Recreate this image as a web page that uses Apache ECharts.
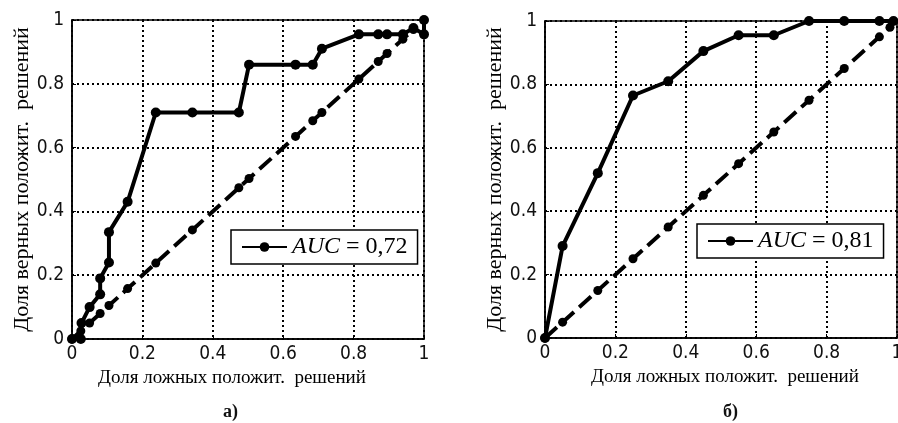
<!DOCTYPE html>
<html>
<head>
<meta charset="utf-8">
<script src="https://cdn.jsdelivr.net/npm/echarts@6/dist/echarts.min.js"></script>
<style>
html,body{margin:0;padding:0;background:#fff;}
#c{width:898px;height:423px;}
</style>
</head>
<body>
<div id="c"></div>
<script>
// ---- data ----
var ticks = [0, 0.2, 0.4, 0.6, 0.8, 1];
var leftFpr = [0, 0.025, 0.027, 0.05, 0.08, 0.08, 0.105, 0.105, 0.158, 0.238, 0.342, 0.474, 0.503, 0.635, 0.684, 0.71, 0.815, 0.87, 0.895, 0.94, 0.97, 1.0, 1.0];
var leftTpr = [0, 0, 0.05, 0.10, 0.14, 0.19, 0.24, 0.335, 0.43, 0.71, 0.71, 0.71, 0.86, 0.86, 0.86, 0.91, 0.955, 0.955, 0.955, 0.955, 0.975, 0.955, 1.0];
var leftDiag = [0, 0.025, 0.05, 0.08, 0.105, 0.158, 0.238, 0.342, 0.474, 0.503, 0.635, 0.684, 0.71, 0.815, 0.87, 0.895, 0.94, 0.97];
var rightFpr = [0, 0.05, 0.15, 0.25, 0.35, 0.45, 0.55, 0.65, 0.75, 0.85, 0.95, 0.99];
var rightTpr = [0, 0.29, 0.52, 0.765, 0.81, 0.905, 0.955, 0.955, 1, 1, 1, 1];
var rightDiag = [0, 0.05, 0.15, 0.25, 0.35, 0.45, 0.55, 0.65, 0.75, 0.85, 0.95, 0.98];
var leftName = 'AUC = 0,72';
var rightName = 'AUC = 0,81';
var xTitle = 'Доля ложных положит.  решений';
var yTitle = 'Доля верных положит.  решений';
var panelLabels = ['а)', 'б)'];

function pairs(xs, ys) { return xs.map(function (x, i) { return [x, ys[i]]; }); }
function diag(xs) { return xs.map(function (x) { return [x, x]; }); }

var tickFont = "'Liberation Sans Narrow','DejaVu Sans Condensed',Arial,sans-serif";
var serif = "'Liberation Serif','Times New Roman',serif";

function fmt(v) { return String(Math.round(v * 10) / 10); }

function xAxis(i, pad) {
  return {
    gridIndex: i, type: 'value', min: 0, max: 1, interval: 0.2,
    name: xTitle, nameLocation: 'middle', nameGap: 30,
    nameTextStyle: { fontFamily: serif, fontSize: 19, color: '#000', padding: pad },
    axisLine: { show: true, onZero: false, lineStyle: { color: '#000', width: 1.5 } },
    axisTick: { show: true, inside: true, length: 4, lineStyle: { color: '#000' } },
    axisLabel: { margin: 6, fontFamily: tickFont, fontSize: 19, color: '#111', formatter: fmt },
    splitLine: { show: true, lineStyle: { color: '#000', width: 2, type: [2, 3] } }
  };
}
function yAxis(i, gap) {
  return {
    gridIndex: i, type: 'value', min: 0, max: 1, interval: 0.2,
    name: yTitle, nameLocation: 'middle', nameGap: gap, nameRotate: 90,
    nameTextStyle: { fontFamily: serif, fontSize: 22, color: '#000' },
    axisLine: { show: true, onZero: false, lineStyle: { color: '#000', width: 1.5 } },
    axisTick: { show: true, inside: true, length: 4, lineStyle: { color: '#000' } },
    axisLabel: { margin: 8, fontFamily: tickFont, fontSize: 19, color: '#111', formatter: fmt },
    splitLine: { show: true, lineStyle: { color: '#000', width: 2, type: [2, 3] } }
  };
}
function legend(name, left, top) {
  return {
    data: [name], left: left, top: top, orient: 'horizontal',
    backgroundColor: '#fff', borderColor: '#000', borderWidth: 1.5,
    padding: [5, 10, 5, 10], itemWidth: 45, itemHeight: 12, borderRadius: 0,
    selectedMode: false,
    formatter: function (n) { return '{i|AUC}{n|' + n.replace('AUC', '') + '}'; },
    textStyle: {
      fontFamily: serif, fontSize: 24, color: '#000',
      rich: {
        i: { fontFamily: serif, fontSize: 24, fontStyle: 'italic', color: '#000' },
        n: { fontFamily: serif, fontSize: 24, color: '#000' }
      }
    }
  };
}
function roc(name, i, data) {
  return {
    name: name, type: 'line', xAxisIndex: i, yAxisIndex: i, data: data,
    symbol: 'circle', symbolSize: 10, showSymbol: true, z: 4,
    lineStyle: { color: '#000', width: 4 }, itemStyle: { color: '#000' },
    animation: false
  };
}
function diagSeries(i, data) {
  return {
    name: 'diag' + i, type: 'line', xAxisIndex: i, yAxisIndex: i, data: data,
    symbol: 'circle', symbolSize: 9, showSymbol: true, z: 3,
    lineStyle: { color: '#000', width: 4, type: [16, 7] }, itemStyle: { color: '#000' },
    animation: false
  };
}

var chart = echarts.init(document.getElementById('c'), null, { renderer: 'canvas' });
chart.setOption({
  animation: false,
  backgroundColor: '#fff',
  title: [
    { text: panelLabels[0], left: 218, top: 398, textStyle: { fontFamily: serif, fontSize: 18, fontWeight: 'bold', color: '#111' } },
    { text: panelLabels[1], left: 718, top: 398, textStyle: { fontFamily: serif, fontSize: 18, fontWeight: 'bold', color: '#111' } }
  ],
  grid: [
    { left: 72, top: 20, width: 352, height: 319, show: true, borderColor: '#000', borderWidth: 1.5, containLabel: false, outerBoundsMode: 'none' },
    { left: 545, top: 21, width: 352, height: 317, show: true, borderColor: '#000', borderWidth: 1.5, containLabel: false, outerBoundsMode: 'none' }
  ],
  xAxis: [xAxis(0, [0, 32, 0, 0]), xAxis(1, [0, 0, 0, 8])],
  yAxis: [yAxis(0, 35), yAxis(1, 20)],
  legend: [legend(leftName, 231, 230), legend(rightName, 697, 224)],
  series: [
    diagSeries(0, diag(leftDiag)),
    roc(leftName, 0, pairs(leftFpr, leftTpr)),
    diagSeries(1, diag(rightDiag)),
    roc(rightName, 1, pairs(rightFpr, rightTpr))
  ]
});
</script>
</body>
</html>
